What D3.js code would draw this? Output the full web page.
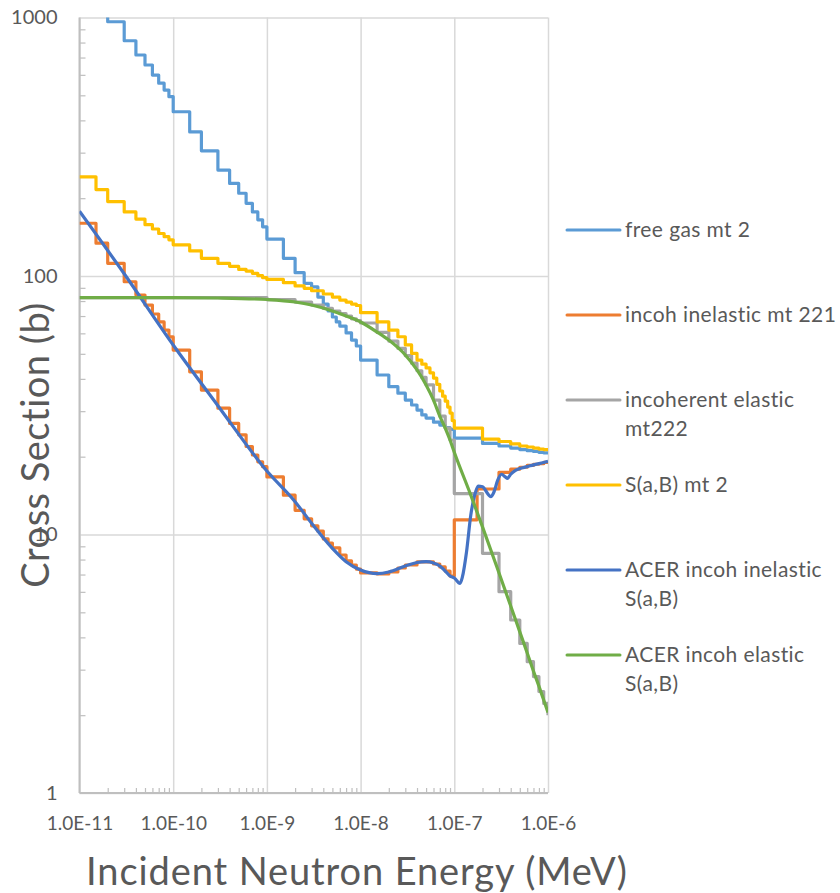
<!DOCTYPE html>
<html lang="en">
<head>
<meta charset="UTF-8">
<title>Cross sections</title>
<style>
  body { margin: 0; background: #fff; }
  text { font-family: Lato, "Open Sans", sans-serif; fill: #595959; }
</style>
</head>
<body>
<script src="https://cdnjs.cloudflare.com/ajax/libs/d3/7.8.5/d3.min.js"></script>
<script>
'use strict';
// energies in MeV, cross sections in barns

const freeGasE = [1e-11, 2e-11, 3e-11, 4e-11, 5e-11, 6e-11, 7e-11, 8e-11, 9e-11,
  1e-10, 1.5e-10, 2e-10, 3e-10, 4e-10, 5e-10, 6e-10, 7e-10, 8e-10, 9e-10,
  1e-9, 1.5e-9, 2e-9, 2.5e-9, 3e-9, 3.5e-9, 4e-9, 4.5e-9, 5e-9, 5.5e-9, 6e-9, 7e-9, 8e-9, 9e-9,
  1e-8, 1.5e-8, 2e-8, 2.5e-8, 3e-8, 3.5e-8, 4e-8, 4.5e-8, 5e-8, 6e-8, 7e-8, 8e-8, 9e-8,
  1e-7, 2e-7, 3e-7, 4e-7, 5e-7, 6e-7, 7e-7, 8e-7, 9e-7, 1e-6];
const freeGasXS = [1200, 963, 813, 716, 655, 599, 557, 524, 494,
  432, 361, 305, 257, 228, 209, 191, 177, 165, 155,
  139, 117, 103, 93.7, 90.7, 82.9, 77.9, 73.2, 69.4, 66.4, 64.0, 60.2, 56.5, 53.6,
  47.3, 41.4, 37.3, 35.2, 33.1, 31.7, 30.3, 29.0, 28.2, 27.2, 26.5, 25.9, 25.5,
  23.6, 22.5, 22.0, 21.6, 21.3, 21.1, 20.95, 20.8, 20.7, 20.7];

const inelE = [1e-11, 1.5e-11, 2e-11, 3e-11, 4e-11, 5e-11, 6e-11, 7e-11, 8e-11, 9e-11,
  1e-10, 1.5e-10, 2e-10, 3e-10, 4e-10, 5e-10, 6e-10, 7e-10, 8e-10, 9e-10,
  1e-9, 1.5e-9, 2e-9, 2.5e-9, 3e-9, 3.5e-9, 4e-9, 4.5e-9, 5e-9, 6e-9, 7e-9, 8e-9, 9e-9,
  1e-8, 1.5e-8, 2e-8, 2.5e-8, 3e-8, 4e-8, 5e-8, 6e-8, 7e-8, 8e-8, 9e-8,
  1e-7, 1.75e-7, 3e-7, 4e-7, 5e-7, 6e-7, 7e-7, 8e-7, 9e-7, 1e-6];
const inelXS = [160, 134, 112, 95.0, 84.4, 77.2, 71.3, 66.4, 61.8, 58.1,
  51.7, 42.6, 36.2, 30.8, 26.9, 24.3, 21.9, 20.3, 19.1, 18.3,
  16.7, 14.2, 12.4, 11.5, 10.8, 10.3, 9.61, 9.27, 8.87, 8.33, 7.90, 7.62, 7.35,
  7.10, 7.04, 7.16, 7.42, 7.62, 7.83, 7.83, 7.69, 7.49, 7.22, 6.91,
  11.4, 15.0, 17.4, 17.9, 18.2, 18.5, 18.7, 18.8, 19.0, 19.2];

const elasE = [1e-11, 1e-10, 1e-9, 2e-9, 3e-9, 4e-9, 5e-9, 6e-9, 7e-9, 8e-9, 9e-9,
  1e-8, 1.5e-8, 2e-8, 2.5e-8, 3e-8, 3.5e-8, 4e-8, 4.5e-8, 5e-8, 6e-8, 7e-8, 8e-8, 9e-8,
  1e-7, 2e-7, 3e-7, 4e-7, 5e-7, 6e-7, 7e-7, 8e-7, 9e-7, 1e-6];
const elasXS = [82.5, 82.5, 81, 79.3, 77.2, 75, 73.2, 71.5, 70, 68.3, 67.2,
  65.8, 60.5, 56, 52.5, 49.2, 46, 43, 40.5, 37.9, 33.1, 28.7, 25.8, 23.2,
  14.4, 8.46, 6.01, 4.67, 3.79, 3.22, 2.82, 2.47, 2.22, 2.0];

const sabE = [1e-11, 1.5e-11, 2e-11, 3e-11, 4e-11, 5e-11, 6e-11, 7e-11, 8e-11, 9e-11,
  1e-10, 1.5e-10, 2e-10, 3e-10, 4e-10, 5e-10, 6e-10, 7e-10, 8e-10, 9e-10,
  1e-9, 1.5e-9, 2e-9, 2.5e-9, 3e-9, 4e-9, 5e-9, 6e-9, 7e-9, 8e-9, 9e-9,
  1e-8, 1.5e-8, 2e-8, 2.5e-8, 3e-8, 3.5e-8, 4e-8, 4.5e-8, 5e-8, 5.5e-8, 6e-8, 6.5e-8, 7e-8, 7.5e-8, 8e-8, 8.5e-8, 9e-8, 9.5e-8,
  1e-7, 2e-7, 3e-7, 4e-7, 5e-7, 6e-7, 7e-7, 8e-7, 9e-7, 1e-6];
const sabXS = [242, 216, 194, 177, 166, 158, 152, 146, 142, 138,
  132, 125, 117, 112, 109, 106, 104.5, 102.4, 100.3, 98.5,
  97, 94.2, 91.5, 89.6, 87.7, 85.2, 82.9, 80.7, 79.3, 77.9, 76.9,
  72.1, 66.5, 61.8, 58.2, 54.1, 50.2, 47.3, 45.6, 44.1, 42.2, 40.3, 38.1, 35.9, 34.3, 32.8, 31.1, 29.5, 27.6,
  25.8, 23.4, 22.9, 22.4, 22.0, 21.8, 21.6, 21.4, 21.3, 21.2];

const acerInelE = [1e-11, 3e-11, 1e-10, 3e-10, 1e-9, 2e-9, 3e-9, 5e-9, 7e-9,
  1e-8, 1.5e-8, 2e-8, 3e-8, 4e-8, 5e-8, 6e-8, 7e-8, 8e-8, 9e-8,
  1e-7, 1.15e-7, 1.22e-7, 1.35e-7, 1.5e-7, 1.65e-7, 1.8e-7, 2e-7, 2.3e-7, 2.45e-7, 2.65e-7, 2.9e-7,
  3.2e-7, 3.5e-7, 3.7e-7, 4e-7, 4.5e-7, 5e-7, 6e-7, 7e-7, 8e-7, 1e-6];
const acerInelXS = [178, 102, 54.1, 31.5, 17.6, 13.4, 11.05, 8.84, 7.85,
  7.29, 7.06, 7.16, 7.55, 7.79, 7.85, 7.76, 7.55, 7.22, 6.91,
  6.79, 6.47, 6.85, 8.56, 11.9, 14.2, 15.4, 15.3, 14.3, 14.0, 14.6, 16.2,
  17.1, 16.7, 16.5, 17.1, 17.7, 18.0, 18.3, 18.6, 18.8, 19.2];

const acerElasE = [1e-11, 1e-10, 3e-10, 1e-9, 2e-9, 3e-9, 5e-9, 7e-9,
  1e-8, 1.5e-8, 2e-8, 3e-8, 4e-8, 5e-8, 6e-8, 7e-8, 8e-8, 9e-8,
  1e-7, 1.5e-7, 2e-7, 3e-7, 4e-7, 5e-7, 6e-7, 7e-7, 8e-7, 9e-7, 1e-6];
const acerElasXS = [82.5, 82.5, 82.2, 81.1, 79.3, 77.2, 73.2, 70.0,
  66.4, 60.7, 56.5, 49.5, 43.3, 37.9, 33.1, 28.7, 25.8, 23.2,
  20.8, 14.2, 10.7, 7.10, 5.29, 4.20, 3.48, 2.96, 2.59, 2.29, 2.05];

const legendLines = [['free gas mt 2'], ['incoh inelastic mt 221'], ['incoherent elastic', 'mt222'],
  ['S(a,B) mt 2'], ['ACER incoh inelastic', 'S(a,B)'], ['ACER incoh elastic', 'S(a,B)']];
const colors = ['#5B9BD5', '#ED7D31', '#A5A5A5', '#FFC000', '#4472C4', '#70AD47'];

const xTicks = [1e-11, 1e-10, 1e-9, 1e-8, 1e-7, 1e-6];
const yTicks = [1, 10, 100, 1000];

const series = [
  {E: freeGasE, XS: freeGasXS, step: true},
  {E: inelE, XS: inelXS, step: true},
  {E: elasE, XS: elasXS, step: true},
  {E: sabE, XS: sabXS, step: true},
  {E: acerInelE, XS: acerInelXS, step: false},
  {E: acerElasE, XS: acerElasXS, step: false}
];

const W = 840, H = 893;
const mLeft = 79.5, mRight = 548, mTop = 17.5, mBottom = 793;

const svg = d3.select('body').append('svg')
  .attr('width', W)
  .attr('height', H);

const x = d3.scaleLog().domain([1e-11, 1e-6]).range([mLeft, mRight]);
const y = d3.scaleLog().domain([1, 1000]).range([mBottom, mTop]);

// minor tick positions 2..9 per decade
const minorX = [], minorY = [];
xTicks.slice(0, -1).forEach(d => { for (let k = 2; k < 10; k++) minorX.push(d * k); });
yTicks.slice(0, -1).forEach(d => { for (let k = 2; k < 10; k++) minorY.push(d * k); });

// gridlines
svg.append('g')
  .attr('transform', `translate(0,${mBottom})`)
  .call(d3.axisBottom(x).tickValues(xTicks).tickSize(-(mBottom - mTop)).tickFormat(''))
  .call(g => g.select('.domain').remove())
  .call(g => g.selectAll('line').attr('stroke', '#d9d9d9').attr('stroke-width', 1.5));
svg.append('g')
  .attr('transform', `translate(${mLeft},0)`)
  .call(d3.axisLeft(y).tickValues(yTicks).tickSize(-(mRight - mLeft)).tickFormat(''))
  .call(g => g.select('.domain').remove())
  .call(g => g.selectAll('line').attr('stroke', '#d9d9d9').attr('stroke-width', 1.5));

// minor ticks
svg.append('g')
  .attr('transform', `translate(0,${mBottom})`)
  .call(d3.axisBottom(x).tickValues(minorX).tickSize(-5).tickFormat(''))
  .call(g => g.select('.domain').remove())
  .call(g => g.selectAll('line').attr('stroke', '#bfbfbf').attr('stroke-width', 1.2));
svg.append('g')
  .attr('transform', `translate(${mLeft},0)`)
  .call(d3.axisLeft(y).tickValues(minorY).tickSize(-6).tickFormat(''))
  .call(g => g.select('.domain').remove())
  .call(g => g.selectAll('line').attr('stroke', '#bfbfbf').attr('stroke-width', 1.2));

// axis lines
svg.append('line').attr('x1', mLeft).attr('x2', mLeft).attr('y1', mTop).attr('y2', mBottom)
  .attr('stroke', '#bfbfbf').attr('stroke-width', 2);
svg.append('line').attr('x1', mLeft).attr('x2', mRight).attr('y1', mBottom).attr('y2', mBottom)
  .attr('stroke', '#bfbfbf').attr('stroke-width', 2);

// tick labels
svg.append('g')
  .attr('transform', `translate(0,${mBottom})`)
  .call(d3.axisBottom(x).tickValues(xTicks).tickSize(0).tickPadding(24)
    .tickFormat(d => d.toExponential(1).toUpperCase()))
  .call(g => g.select('.domain').remove())
  .call(g => g.selectAll('text').attr('font-size', 19).attr('fill', '#595959')
    .attr('font-family', 'Lato, "Open Sans", sans-serif'));
svg.append('g')
  .attr('transform', `translate(${mLeft},0)`)
  .call(d3.axisLeft(y).tickValues(yTicks).tickSize(0).tickPadding(22).tickFormat(d3.format('d')))
  .call(g => g.select('.domain').remove())
  .call(g => g.selectAll('text').attr('font-size', 20).attr('fill', '#595959')
    .attr('font-family', 'Lato, "Open Sans", sans-serif'));

// axis titles
svg.append('text')
  .attr('x', 357).attr('y', 885)
  .attr('text-anchor', 'middle')
  .attr('font-size', 38)
  .attr('letter-spacing', 0.9)
  .text('Incident Neutron Energy (MeV)');
svg.append('text')
  .attr('transform', 'translate(49,445) rotate(-90)')
  .attr('text-anchor', 'middle')
  .attr('font-size', 38)
  .attr('letter-spacing', 0.5)
  .text('Cross Section (b)');

// series
svg.append('clipPath').attr('id', 'plot')
  .append('rect').attr('x', mLeft).attr('y', mTop).attr('width', mRight - mLeft).attr('height', mBottom - mTop);

const plot = svg.append('g').attr('clip-path', 'url(#plot)');
series.forEach((s, i) => {
  const pts = s.E.map((e, j) => [e, s.XS[j]]);
  const line = d3.line()
    .x(d => x(d[0]))
    .y(d => y(d[1]))
    .curve(s.step ? d3.curveStepAfter : d3.curveMonotoneX);
  plot.append('path')
    .datum(pts)
    .attr('d', line)
    .attr('fill', 'none')
    .attr('stroke', colors[i])
    .attr('stroke-width', 3.2)
    .attr('stroke-linejoin', 'round');
});

// legend
const legend = svg.append('g');
legendLines.forEach((lines, i) => {
  const ly = 230 + i * 85;
  legend.append('line')
    .attr('x1', 567).attr('x2', 620).attr('y1', ly).attr('y2', ly)
    .attr('stroke', colors[i]).attr('stroke-width', 3).attr('stroke-linecap', 'round');
  const t = legend.append('text')
    .attr('x', 625).attr('y', ly + 7)
    .attr('font-size', 21)
    .attr('letter-spacing', 0.4);
  lines.forEach((l, k) => {
    t.append('tspan').attr('x', 625).attr('dy', k === 0 ? 0 : 29).text(l);
  });
});
</script>
</body>
</html>
